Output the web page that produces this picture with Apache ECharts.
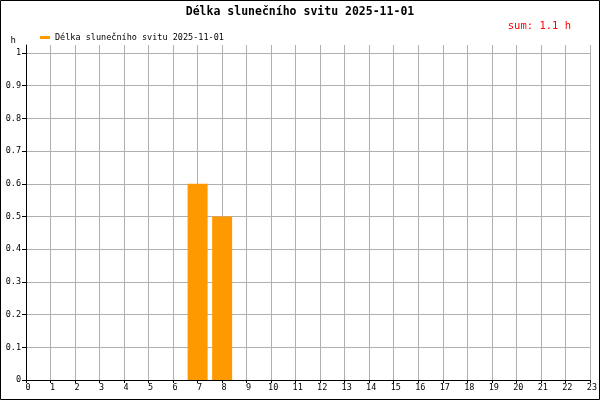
<!DOCTYPE html>
<html><head><meta charset="utf-8">
<script src="https://cdn.jsdelivr.net/npm/echarts@6/dist/echarts.min.js"></script>
<style>html,body{margin:0;padding:0;background:#fff}#c{width:600px;height:400px}</style>
</head><body><div id="c"></div>
<script>
const titleText = 'Délka slunečního svitu 2025-11-01';
const seriesName = 'Délka slunečního svitu 2025-11-01';
const sumText = 'sum: 1.1 h';
const hours = [7, 8];
const sunshine = [0.6, 0.5];
const yMaxLabel = 1;

const font = '"DejaVu Sans Mono", "Liberation Mono", monospace';
const chart = echarts.init(document.getElementById('c'), null, {renderer: 'canvas'});
chart.setOption({
  animation: false,
  backgroundColor: '#fff',
  title: [
    {text: titleText, left: 'center', top: 1, textStyle: {fontFamily: font, fontSize: 11.5, fontWeight: 'bold', color: '#000'}},
    {text: sumText, right: 24, top: 16, textStyle: {fontFamily: font, fontSize: 10.5, fontWeight: 'normal', color: '#ff0000'}}
  ],
  legend: {
    left: 35, top: 28, icon: 'rect', itemWidth: 10, itemHeight: 3, itemGap: 5,
    textStyle: {fontFamily: font, fontSize: 8.5, color: '#000', padding: [0,0,0,0]},
    data: [seriesName]
  },
  graphic: [{type: 'rect', shape: {x: 0.5, y: 0.5, width: 599, height: 399}, style: {fill: 'none', stroke: '#000', lineWidth: 1}, silent: true}],
  grid: {left: 26, right: 10, top: 45, bottom: 20},
  xAxis: {
    type: 'value', min: 0, max: 23, interval: 1,
    axisLine: {show: true, lineStyle: {color: '#000', width: 1}},
    axisTick: {show: true, length: 3, lineStyle: {color: '#000'}},
    axisLabel: {fontFamily: font, fontSize: 8.5, color: '#000', margin: 3, padding: [0,0,0,4]},
    splitLine: {show: true, lineStyle: {color: '#b0b0b0', width: 1}}
  },
  yAxis: {
    type: 'value', min: 0, max: 1.0245, interval: 0.1,
    name: 'h', nameLocation: 'end', nameGap: 0,
    nameTextStyle: {fontFamily: font, fontSize: 9, color: '#000', align: 'right', padding: [0, 10, 0, 0]},
    axisLine: {show: true, lineStyle: {color: '#000', width: 1}},
    axisTick: {show: true, length: 4, lineStyle: {color: '#000'}},
    axisLabel: {fontFamily: font, fontSize: 8.5, color: '#000', margin: 5, showMaxLabel: false,
      formatter: v => (v > yMaxLabel + 1e-9 ? '' : String(Math.round(v * 10) / 10))},
    splitLine: {show: true, showMaxLine: false, lineStyle: {color: '#b0b0b0', width: 1}}
  },
  series: [{
    name: seriesName, type: 'bar', barWidth: 20,
    itemStyle: {color: '#ff9900'},
    data: hours.map((h, i) => [h, sunshine[i]])
  }]
});
</script></body></html>
